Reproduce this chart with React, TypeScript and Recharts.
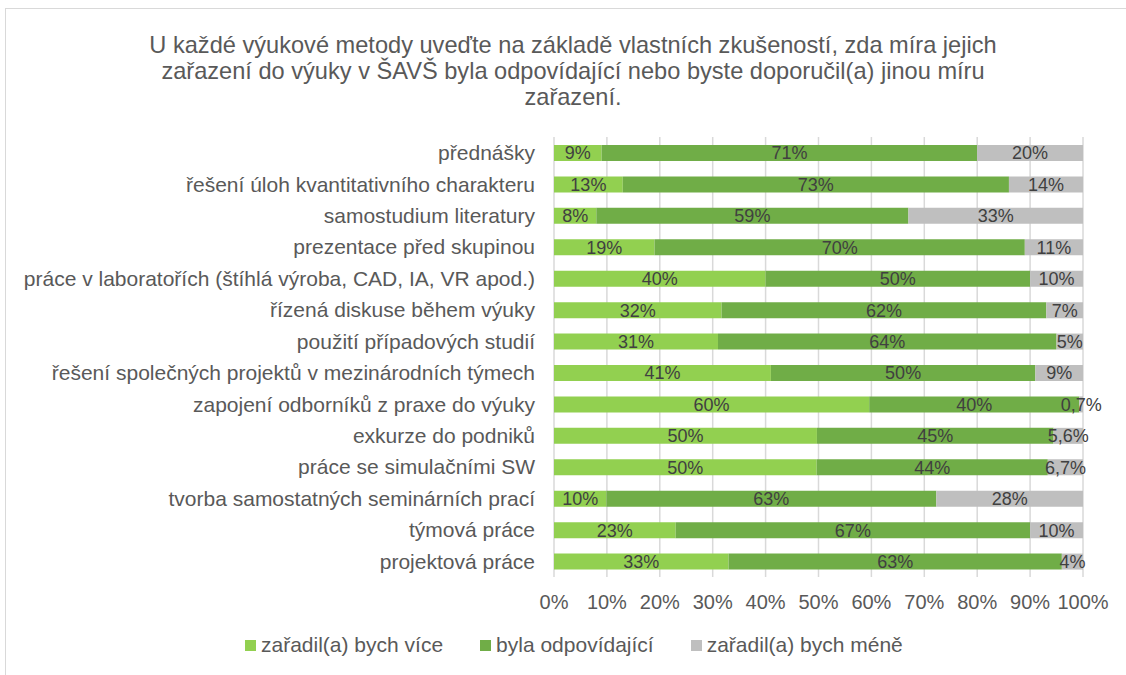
import { BarChart, Bar, XAxis, YAxis, CartesianGrid, Legend, LabelList } from "recharts";

const categories = [
  "přednášky",
  "řešení úloh kvantitativního charakteru",
  "samostudium literatury",
  "prezentace před skupinou",
  "práce v laboratořích (štíhlá výroba, CAD, IA, VR apod.)",
  "řízená diskuse během výuky",
  "použití případových studií",
  "řešení společných projektů v mezinárodních týmech",
  "zapojení odborníků z praxe do výuky",
  "exkurze do podniků",
  "práce se simulačními SW",
  "tvorba samostatných seminárních prací",
  "týmová práce",
  "projektová práce",
];

const more = [9, 13, 8, 19, 40, 32, 31, 41, 60, 50, 50, 10, 23, 33];
const same = [71, 73, 59, 70, 50, 62, 64, 50, 40, 45, 44, 63, 67, 63];
const less = [20, 14, 33, 11, 10, 7, 5, 9, 0.7, 5.6, 6.7, 28, 10, 4];

const xTicks = [0, 0.1, 0.2, 0.3, 0.4, 0.5, 0.6, 0.7, 0.8, 0.9, 1];

const titleLines = [
  "U každé výukové metody uveďte na základě vlastních zkušeností, zda míra jejich",
  "zařazení do výuky v ŠAVŠ byla odpovídající nebo byste doporučil(a) jinou míru",
  "zařazení.",
];

const seriesNames = ["zařadil(a) bych více", "byla odpovídající", "zařadil(a) bych méně"];
const colors = ["#92d050", "#70ad47", "#bfbfbf"];

const data = categories.map((name, i) => ({
  name,
  more: more[i],
  same: same[i],
  less: less[i],
}));

const FONT = '"Liberation Sans", Arial, sans-serif';
const TEXT = "#595959";

const fmt = (v: any) => String(v).replace(".", ",") + "%";

function LegendContent() {
  return (
    <div style={{ display: "flex", gap: 37, fontFamily: FONT, fontSize: 21, lineHeight: "24px", color: TEXT }}>
      {seriesNames.map((n, i) => (
        <div key={n} style={{ display: "flex", alignItems: "center" }}>
          <span style={{ width: 11, height: 11, background: colors[i], marginRight: 5, display: "inline-block" }} />
          {n}
        </div>
      ))}
    </div>
  );
}

export default function App() {
  return (
    <div style={{ position: "absolute", left: 0, top: 0, width: 1126, height: 675, background: "#fff", overflow: "hidden" }}>
      <div
        style={{
          position: "absolute",
          left: 5,
          top: 8,
          width: 1140,
          height: 700,
          border: "1.5px solid #d9d9d9",
        }}
      />
      <div
        style={{
          position: "absolute",
          left: 73,
          top: 32,
          width: 1000,
          textAlign: "center",
          fontFamily: FONT,
          fontSize: 23.6,
          lineHeight: "26px",
          color: TEXT,
        }}
      >
        {titleLines.map((l) => (
          <div key={l}>{l}</div>
        ))}
      </div>
      <div style={{ position: "absolute", left: 0, top: 0 }}>
        <BarChart
          width={1126}
          height={675}
          data={data}
          layout="vertical"
          stackOffset="expand"
          barSize={16}
          margin={{ top: 137, right: 43, bottom: 68, left: 0 }}
        >
          <CartesianGrid horizontal={false} stroke="#d9d9d9" strokeWidth={1.5} />
          <XAxis
            type="number"
            domain={[0, 1]}
            ticks={xTicks}
            tickFormatter={(v: number) => `${Math.round(v * 100)}%`}
            axisLine={false}
            tickLine={false}
            tick={{ fill: TEXT, fontSize: 20, fontFamily: FONT }}
            tickMargin={12}
            height={30}
          />
          <YAxis
            type="category"
            dataKey="name"
            width={554}
            axisLine={false}
            tickLine={false}
            tick={{ fill: TEXT, fontSize: 21, fontFamily: FONT }}
            tickMargin={13}
            interval={0}
          />
          <Legend
            layout="horizontal"
            verticalAlign="middle"
            content={<LegendContent />}
            wrapperStyle={{ position: "absolute", left: 245, top: 633, width: 800 }}
          />
          {(["more", "same", "less"] as const).map((key, i) => (
            <Bar key={key} dataKey={key} name={seriesNames[i]} stackId="a" fill={colors[i]} isAnimationActive={false}>
              <LabelList
                dataKey={key}
                position="center"
                formatter={fmt}
                style={{ fill: "#404040", fontSize: 18, fontFamily: FONT }}
              />
            </Bar>
          ))}
        </BarChart>
      </div>
    </div>
  );
}
